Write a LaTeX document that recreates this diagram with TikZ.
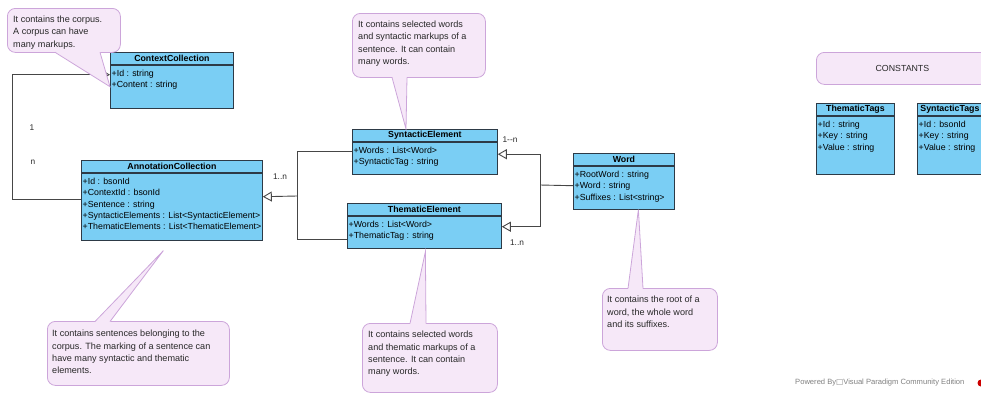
\documentclass[tikz,border=0pt]{standalone}
\usepackage{fontspec}
\setmainfont{Liberation Sans}
\newfontfamily\symfont{DejaVu Sans}
\usetikzlibrary{positioning, calc, arrows.meta}
\definecolor{classBlue}{RGB}{122,206,244}
\definecolor{classLine}{RGB}{45,58,70}
\definecolor{lineGray}{RGB}{70,70,70}
\definecolor{noteFill}{RGB}{246,232,248}
\definecolor{noteLine}{RGB}{204,165,218}
\definecolor{noteInk}{RGB}{40,40,40}
\tikzset{
    classHead/.style={draw=classLine, fill=classBlue, anchor=north west, inner sep=0pt,
        minimum height=12pt, line width=0.8pt, font=\fontsize{8.8}{10}\selectfont\bfseries},
    classBody/.style={draw=classLine, fill=classBlue, anchor=north west, inner sep=0pt, line width=0.8pt},
    attrText/.style={anchor=north west, align=left, inner sep=0pt, font=\fontsize{8.8}{11.4}\selectfont},
}
\tikzstyle{noteBox}=[draw=noteLine, fill=noteFill, rounded corners=8pt, anchor=north west, inner sep=0pt, line width=0.8pt]
\tikzstyle{noteText}=[anchor=north west, align=left, inner sep=0pt, text=noteInk, font=\fontsize{9.1}{12.2}\selectfont]
\tikzstyle{multLabel}=[inner sep=0pt, text=noteInk, font=\fontsize{8.3}{10}\selectfont]
\tikzstyle{assocLine}=[draw=lineGray, line width=0.9pt]
\tikzstyle{inherit}=[assocLine, -{Triangle[open, length=9pt, width=10pt, line width=0.9pt]}]

\begin{document}
\begin{tikzpicture}[x=1pt, y=-1pt]
        \useasboundingbox (0,0) rectangle (981,394);
        \clip (0,0) rectangle (981,394);

        % classes
        \node[classHead, minimum width=123pt] (ctxHead) at (110,52) {ContextCollection};
        \node[classBody, minimum width=123pt, minimum height=43pt] (ctxBody) at (ctxHead.south west) {};
        \node[attrText] (ctxAttr) at ($(ctxBody.north west)+(1.5,5)$) {+Id : string\\+Content : string};

        \node[classHead, minimum width=181pt] (acHead) at (81,160) {AnnotationCollection};
        \node[classBody, minimum width=181pt, minimum height=67pt] (acBody) at (acHead.south west) {};
        \node[attrText] (acAttr) at ($(acBody.north west)+(1.5,5)$) {+Id : bsonId\\+ContextId : bsonId\\+Sentence : string\\+SyntacticElements : List<SyntacticElement>\\+ThematicElements : List<ThematicElement>};

        \node[classHead, minimum width=145pt] (seHead) at (352,129) {SyntacticElement};
        \node[classBody, minimum width=145pt, minimum height=32pt] (seBody) at (seHead.south west) {};
        \node[attrText] (seAttr) at ($(seBody.north west)+(1.5,5)$) {+Words : List<Word>\\+SyntacticTag : string};

        \node[classHead, minimum width=154pt] (teHead) at (347,203) {ThematicElement};
        \node[classBody, minimum width=154pt, minimum height=32pt] (teBody) at (teHead.south west) {};
        \node[attrText] (teAttr) at ($(teBody.north west)+(1.5,5)$) {+Words : List<Word>\\+ThematicTag : string};

        \node[classHead, minimum width=101pt] (wordHead) at (573,153) {Word};
        \node[classBody, minimum width=101pt, minimum height=43pt] (wordBody) at (wordHead.south west) {};
        \node[attrText] (wordAttr) at ($(wordBody.north west)+(1.5,5)$) {+RootWord : string\\+Word : string\\+Suffixes : List<string>};

        \node[classHead, minimum width=78pt] (ttHead) at (816,103) {ThematicTags};
        \node[classBody, minimum width=78pt, minimum height=58pt] (ttBody) at (ttHead.south west) {};
        \node[attrText] (ttAttr) at ($(ttBody.north west)+(1.5,5)$) {+Id : string\\+Key : string\\+Value : string};

        \node[classHead, minimum width=78pt, inner xsep=3pt, text width=72pt, align=left] (stHead) at (917,103) {SyntacticTags};
        \node[classBody, minimum width=78pt, minimum height=58pt] (stBody) at (stHead.south west) {};
        \node[attrText] (stAttr) at ($(stBody.north west)+(1.5,5)$) {+Id : bsonId\\+Key : string\\+Value : string};

        % connectors
        \coordinate (jAnn) at (297,196);
        \coordinate (jWord) at (540,185);

        \draw[inherit] ([yshift=7pt]acBody.west) -- ++(-69,0) |- ([yshift=12pt]ctxBody.west);
        \draw[assocLine] ([yshift=7pt]seBody.west) -| (jAnn);
        \draw[assocLine] ([yshift=-7.5pt]teBody.west) -| (jAnn);
        \draw[inherit] (jAnn) -- ([yshift=10pt]acBody.east);
        \draw[assocLine] ([yshift=2pt]wordBody.west) -- (jWord);
        \draw[inherit] (jWord) |- ([yshift=4pt]seBody.east);
        \draw[inherit] (jWord) |- ([yshift=5.5pt]teBody.east);

        \node[multLabel] (mOne) at (32,128) {1};
        \node[multLabel] (mN) at (33,162) {n};
        \node[multLabel] (mAnn) at (280,177) {1..n};
        \node[multLabel] (mSyn) at (510,140) {1-{}-n};
        \node[multLabel] (mThe) at (517,243) {1..n};

        % notes
        \node[noteBox, minimum width=113pt, minimum height=44pt] (corpusNote) at (7,8) {};
        \fill[noteFill] ($(corpusNote.south west)+(48,-1)$) -- (ctxBody.west) -- ($(corpusNote.south west)+(93,-1)$) -- cycle;
        \draw[noteLine, line width=0.8pt] ($(corpusNote.south west)+(48,-0.5)$) -- (ctxBody.west) -- ($(corpusNote.south west)+(93,-0.5)$);
        \node[noteText] (corpusText) at ($(corpusNote.north west)+(6,8)$) {It contains the corpus.\\A corpus can have\\many markups.};

        \node[noteBox, minimum width=133pt, minimum height=64pt] (synNote) at (352,13) {};
        \fill[noteFill] ($(synNote.south west)+(40,-1)$) -- ($(seHead.north west)+(54,0)$) -- ($(synNote.south west)+(55,-1)$) -- cycle;
        \draw[noteLine, line width=0.8pt] ($(synNote.south west)+(40,-0.5)$) -- ($(seHead.north west)+(54,0)$) -- ($(synNote.south west)+(55,-0.5)$);
        \node[noteText] (synText) at ($(synNote.north west)+(6,8)$) {It contains selected words\\and syntactic markups of a\\sentence. It can contain\\many words.};

        \node[noteBox, minimum width=182pt, minimum height=64pt] (annNote) at (47,321) {};
        \fill[noteFill] ($(annNote.north west)+(48,1)$) -- ($(acBody.south)+(-8.5,10)$) -- ($(annNote.north west)+(63,1)$) -- cycle;
        \draw[noteLine, line width=0.8pt] ($(annNote.north west)+(48,0.5)$) -- ($(acBody.south)+(-8.5,10)$) -- ($(annNote.north west)+(63,0.5)$);
        \node[noteText] (annText) at ($(annNote.north west)+(5,9)$) {It contains sentences belonging to the\\corpus. The marking of a sentence can\\have many syntactic and thematic\\elements.};

        \node[noteBox, minimum width=135pt, minimum height=69pt] (theNote) at (362,323) {};
        \fill[noteFill] ($(theNote.north west)+(48,1)$) -- ($(teBody.south)+(1,3)$) -- ($(theNote.north west)+(64,1)$) -- cycle;
        \draw[noteLine, line width=0.8pt] ($(theNote.north west)+(48,0.5)$) -- ($(teBody.south)+(1,3)$) -- ($(theNote.north west)+(64,0.5)$);
        \node[noteText] (theText) at ($(theNote.north west)+(6,8)$) {It contains selected words\\and thematic markups of a\\sentence. It can contain\\many words.};

        \node[noteBox, minimum width=115pt, minimum height=62pt] (wordNote) at (602,288) {};
        \fill[noteFill] ($(wordNote.north west)+(26,1)$) -- ($(wordBody.south)+(14.5,0)$) -- ($(wordNote.north west)+(41,1)$) -- cycle;
        \draw[noteLine, line width=0.8pt] ($(wordNote.north west)+(26,0.5)$) -- ($(wordBody.south)+(14.5,0)$) -- ($(wordNote.north west)+(41,0.5)$);
        \node[noteText] (wordText) at ($(wordNote.north west)+(5,8)$) {It contains the root of a\\word, the whole word\\and its suffixes.};

        \node[noteBox, minimum width=172pt, minimum height=32pt, font=\fontsize{8.8}{10}\selectfont, text=noteInk] (constBox) at (816,52) {CONSTANTS};

        % watermark
        \node[anchor=west, inner sep=0pt, text=gray, font=\fontsize{7.6}{9}\selectfont] (poweredBy) at (795,383) {Powered By{\symfont □}Visual Paradigm Community Edition};
        \node[circle, fill=red!80!black, minimum size=7pt, inner sep=0pt] (vpLogo) at (981,383) {};
\end{tikzpicture}
\end{document}
